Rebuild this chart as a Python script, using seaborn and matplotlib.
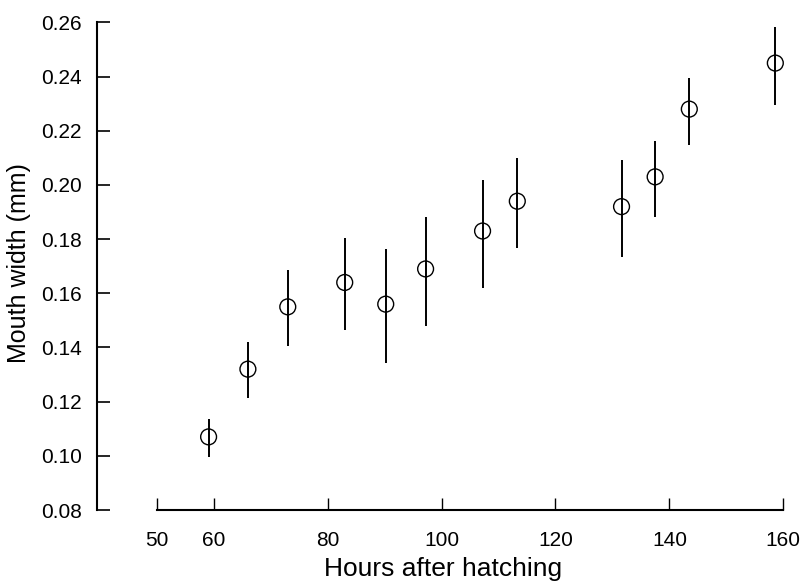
import numpy as np
import pandas as pd
import matplotlib
matplotlib.use("Agg")
import matplotlib.pyplot as plt
import seaborn as sns

hours = [59.1, 66.0, 73.0, 83.0, 90.2, 97.2, 107.2, 113.3, 131.6, 137.5, 143.5, 158.6]
width_mm = [0.107, 0.132, 0.155, 0.164, 0.156, 0.169, 0.183, 0.194, 0.192, 0.203, 0.228, 0.245]
err_low = [0.0996, 0.1215, 0.1404, 0.1463, 0.1344, 0.148, 0.162, 0.1767, 0.1733, 0.188, 0.2148, 0.2296]
err_high = [0.1137, 0.1422, 0.1685, 0.1804, 0.1763, 0.188, 0.2019, 0.210, 0.2093, 0.2163, 0.2396, 0.2585]

x_ticks = [50, 60, 80, 100, 120, 140, 160]
y_ticks = [0.08, 0.10, 0.12, 0.14, 0.16, 0.18, 0.20, 0.22, 0.24, 0.26]

df = pd.DataFrame({"hours": hours, "width": width_mm, "lo": err_low, "hi": err_high})

sns.set_style("ticks")
plt.rcParams['font.family'] = ['Liberation Sans', 'DejaVu Sans']
plt.rcParams['text.color'] = 'black'
plt.rcParams['axes.labelcolor'] = 'black'

fig = plt.figure(figsize=(8.06, 5.83), dpi=100)
ax = fig.add_axes([0.1203, 0.1252, 0.8586, 0.8456])

# error bars (no caps), then open circles on top
ax.vlines(df["hours"], df["lo"], df["hi"], color="black", lw=1.4)
sns.scatterplot(data=df, x="hours", y="width", ax=ax, marker="o", s=130,
                facecolors="none", edgecolor="black", linewidth=1.0, zorder=3)

ax.set_xlim(39.5, 161)
ax.set_ylim(0.08, 0.262)
ax.set_xticks(x_ticks)
ax.set_yticks(y_ticks)
ax.set_yticklabels([f"{v:.2f}" for v in y_ticks])

sns.despine(ax=ax)
ax.spines["left"].set_bounds(0.08, 0.26)
ax.spines["bottom"].set_bounds(50, 160)
for sp in ("left", "bottom"):
    ax.spines[sp].set_linewidth(1.5)
    ax.spines[sp].set_color("black")

ax.tick_params(axis="y", direction="in", length=9, width=1.2, pad=11, labelsize=15, colors="black")
ax.tick_params(axis="x", direction="in", length=9, width=1.0, pad=15, labelsize=15, colors="black")

ax.set_xlabel("Hours after hatching", fontsize=19, labelpad=5)
ax.set_ylabel("Mouth width (mm)", fontsize=18, labelpad=7)

fig.savefig("out.png", dpi=100)
